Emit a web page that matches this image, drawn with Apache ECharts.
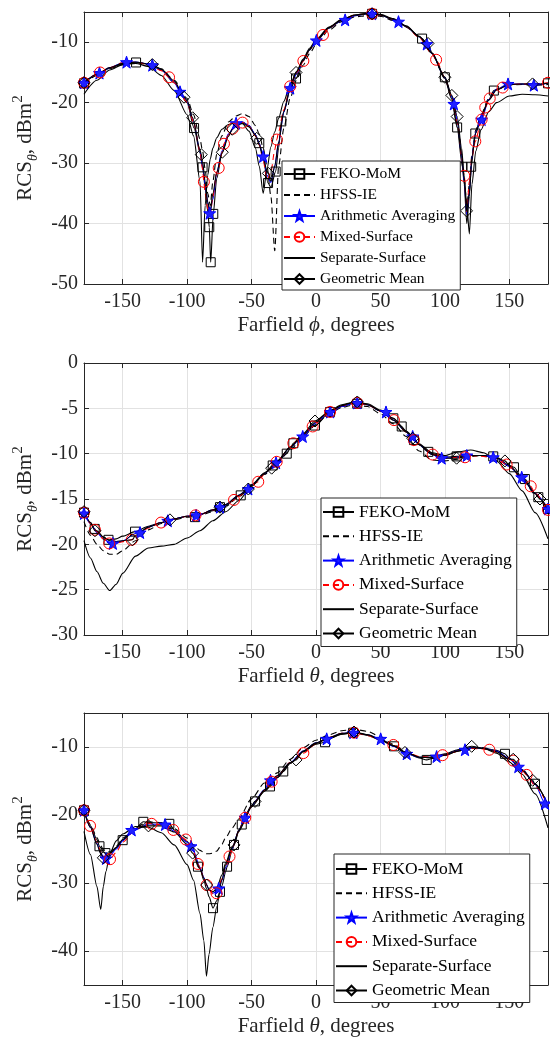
<!DOCTYPE html>
<html>
<head>
<meta charset="utf-8">
<script src="https://cdn.jsdelivr.net/npm/echarts@6/dist/echarts.min.js"></script>
<style>
  html, body { margin: 0; padding: 0; background: #fff; }
  #chart { width: 550px; height: 1040px; }
</style>
</head>
<body>
<div id="chart"></div>
<script>
// tick labels
var xTicks = [-150, -100, -50, 0, 50, 100, 150];
var p1YTicks = [-50, -40, -30, -20, -10];
var p2YTicks = [-30, -25, -20, -15, -10, -5, 0];
var p3YTicks = [-40, -30, -20, -10];

var seriesNames = ['FEKO-MoM', 'HFSS-IE', 'Arithmetic Averaging', 'Mixed-Surface', 'Separate-Surface', 'Geometric Mean'];

// ---------- panel 1 : farfield phi ----------
var p1X = [-180,-170,-160,-150,-140,-130,-120,-110,-100,-95,-90,-88,-86,-84,-82,-80,-77,-73,-68,-62,-57,-52,-47,-44,-41,-38,-35,-32,-29,-25,-20,-15,-10,-5,0,10,20,30,40,50,60,70,80,90,100,105,110,113,115,117,119,121,124,128,134,140,150,160,170,180];
var p1Feko = [-16.8,-15.4,-14.3,-13.6,-13.3,-13.6,-14.6,-16.7,-20.0,-23.5,-28.3,-30.6,-34.0,-38.0,-46.4,-38.6,-32.5,-28.4,-25.3,-23.6,-23.2,-23.8,-25.3,-26.7,-29.3,-32.5,-34.0,-31.6,-27.5,-21.5,-17.8,-15.3,-13.1,-11.3,-9.9,-7.7,-6.4,-5.6,-5.3,-5.5,-6.2,-7.4,-9.0,-11.8,-15.9,-18.9,-23.8,-29.5,-33.5,-40.0,-35.5,-29.5,-24.9,-22.3,-19.5,-17.8,-17.0,-16.9,-17.0,-16.8];
var p1Hfss = [-16.9,-15.5,-14.4,-13.7,-13.4,-13.6,-14.4,-16.3,-19.3,-22.0,-26.0,-28.0,-31.0,-35.0,-37.0,-33.0,-28.5,-25.5,-23.2,-22.2,-21.8,-22.3,-23.8,-25.2,-27.5,-30.5,-35.5,-44.5,-30.5,-24.3,-19.2,-16.2,-13.8,-11.9,-10.4,-8.0,-6.6,-5.8,-5.6,-5.7,-6.4,-7.5,-9.1,-11.9,-16.0,-19.0,-23.5,-28.5,-32.5,-37.0,-33.5,-28.5,-24.5,-22.0,-19.3,-17.8,-17.1,-17.0,-17.1,-17.0];
var p1Arith = [-16.7,-15.3,-14.2,-13.4,-13.3,-13.6,-14.6,-16.6,-19.8,-23.2,-28.0,-30.5,-33.5,-36.5,-38.8,-36.0,-31.6,-28.0,-25.2,-23.5,-23.2,-23.8,-25.3,-26.8,-29.0,-32.0,-33.2,-30.6,-26.6,-21.6,-17.6,-15.2,-13.0,-11.2,-9.8,-7.6,-6.4,-5.6,-5.3,-5.5,-6.2,-7.4,-9.1,-11.9,-15.9,-18.9,-23.5,-29.0,-33.0,-38.5,-34.5,-29.0,-24.8,-22.4,-19.5,-17.8,-16.9,-16.9,-17.1,-16.8];
var p1Mixed = [-16.7,-15.3,-14.2,-13.4,-13.3,-13.7,-14.7,-16.7,-19.9,-23.2,-28.0,-31.0,-35.0,-37.5,-38.5,-35.5,-31.5,-28.3,-25.4,-23.6,-23.3,-23.9,-25.5,-27.0,-29.5,-32.8,-31.5,-27.8,-24.8,-21.2,-17.4,-15.0,-13.1,-11.2,-9.8,-7.6,-6.3,-5.5,-5.3,-5.5,-6.2,-7.4,-9.2,-11.9,-15.9,-18.9,-23.6,-29.0,-32.1,-38.0,-33.0,-29.0,-26.2,-23.1,-19.6,-17.9,-17.0,-16.9,-16.9,-16.7];
var p1Sep = [-18.6,-16.3,-14.6,-13.7,-13.5,-14.0,-15.5,-18.0,-22.0,-25.5,-33.0,-46.4,-37.0,-32.0,-29.3,-27.5,-25.8,-24.4,-23.6,-23.2,-23.5,-24.7,-27.5,-30.5,-35.0,-31.0,-27.3,-24.8,-22.6,-19.8,-17.0,-14.8,-12.8,-11.0,-9.6,-7.5,-6.2,-5.5,-5.2,-5.4,-6.1,-7.3,-9.0,-11.8,-16.0,-19.3,-24.2,-28.8,-32.5,-37.0,-41.7,-33.5,-28.0,-24.5,-21.5,-20.0,-18.9,-18.6,-18.7,-18.9];
var p1Geo = [-16.7,-15.3,-14.2,-13.5,-13.3,-13.6,-14.5,-16.4,-19.6,-22.9,-27.8,-29.8,-33.0,-36.5,-38.0,-35.0,-31.5,-28.4,-25.6,-23.9,-23.4,-24.0,-25.4,-27.0,-29.0,-31.3,-33.0,-30.5,-26.5,-21.5,-17.6,-15.0,-13.0,-11.2,-9.8,-7.6,-6.3,-5.5,-5.3,-5.5,-6.2,-7.4,-9.1,-11.8,-15.8,-18.6,-22.8,-27.5,-32.5,-38.5,-35.0,-29.0,-25.0,-22.4,-19.6,-17.9,-17.0,-16.9,-17.0,-16.8];
var p1FekoMkX = [-180,-139.6,-94.6,-88,-82.8,-81.7,-79.7,-44,-37.2,-31.3,-26.9,-15.5,43.5,82.3,100,109.5,113.6,120.4,123.6,138,180];
var p1FekoMkY = [-16.8,-13.35,-24.2,-30.7,-40.6,-46.4,-38.4,-26.7,-33.3,-31.4,-23.1,-16.0,-5.3,-9.4,-15.8,-24.1,-30.6,-30.6,-25.1,-18.0,-16.8];
var p1ArithMkX = [-180,-168,-147,-127,-105.5,-82.5,-62,-41,-20,0.3,22.6,43.5,64,86,107,128.5,149,169];
var p1ArithMkY = [-16.7,-15.1,-13.3,-13.8,-18.2,-38.3,-23.4,-28.9,-17.6,-9.7,-6.3,-5.3,-6.6,-10.3,-20.2,-22.8,-16.9,-17.1];
var p1MixedMkX = [-180,-167.6,-114,-87,-75.5,-71.4,-64.6,-57,-30.4,-20,-9.8,5.4,43.5,93.2,115,123.6,128.5,131.3,134.8,144.8,180];
var p1MixedMkY = [-16.7,-15.0,-15.8,-33.1,-30.8,-26.8,-24.3,-23.3,-26.1,-17.3,-13.1,-8.8,-5.3,-12.9,-32.1,-26.4,-22.8,-20.8,-19.3,-17.5,-16.7];
var p1GeoMkX = [-180,-127,-102.4,-95.7,-89,-72.7,-65,-46,-37,-15.5,43.5,86.9,100,105.4,109.5,116.8,168];
var p1GeoMkY = [-16.7,-13.7,-19.1,-22.5,-28.6,-28.2,-24.4,-25.9,-31.7,-15.0,-5.3,-10.2,-15.8,-18.8,-22.3,-37.9,-16.9];

// ---------- panel 2 : farfield theta ----------
var p2X = [-180,-175,-170,-165,-160,-155,-150,-140,-130,-120,-110,-100,-90,-80,-70,-60,-50,-40,-30,-20,-10,0,10,20,30,40,50,60,70,80,90,100,110,120,130,140,150,160,170,180];
var p2Feko = [-16.5,-17.6,-18.6,-19.2,-19.5,-19.4,-19.1,-18.6,-18.0,-17.6,-17.2,-16.9,-16.7,-16.3,-15.7,-14.7,-13.4,-12.2,-10.9,-9.4,-7.9,-6.6,-5.4,-4.8,-4.4,-4.6,-5.3,-6.2,-7.6,-9.0,-10.0,-10.4,-10.4,-10.2,-10.2,-10.4,-11.3,-12.7,-14.4,-16.1];
var p2Hfss = [-17.5,-19.0,-20.0,-20.7,-21.1,-21.1,-20.7,-19.6,-18.4,-17.7,-17.3,-17.0,-16.8,-16.4,-15.8,-14.8,-13.5,-12.3,-11.0,-9.6,-8.1,-6.8,-5.6,-4.9,-4.6,-4.8,-5.6,-6.7,-8.1,-9.7,-10.7,-10.8,-10.6,-10.3,-10.2,-10.5,-11.4,-12.8,-14.5,-16.4];
var p2Arith = [-16.6,-17.7,-18.7,-19.4,-19.8,-19.9,-19.6,-18.8,-18.1,-17.6,-17.2,-16.9,-16.7,-16.2,-15.6,-14.6,-13.5,-12.2,-10.9,-9.3,-7.9,-6.6,-5.4,-4.8,-4.4,-4.6,-5.3,-6.3,-7.6,-9.0,-10.1,-10.5,-10.4,-10.2,-10.2,-10.5,-11.4,-12.8,-14.4,-16.1];
var p2Mixed = [-16.5,-17.7,-18.6,-19.4,-19.9,-19.9,-19.7,-19.2,-18.2,-17.6,-17.2,-16.9,-16.7,-16.2,-15.6,-14.7,-13.5,-12.2,-10.9,-9.3,-7.9,-6.6,-5.4,-4.7,-4.4,-4.6,-5.3,-6.3,-7.6,-9.0,-10.1,-10.5,-10.4,-10.2,-10.3,-10.6,-11.4,-12.8,-14.4,-16.2];
var p2Sep = [-19.6,-21.5,-23.0,-24.3,-25.1,-24.4,-23.2,-21.3,-20.4,-20.2,-20.0,-19.3,-18.5,-17.4,-16.4,-15.2,-13.6,-12.2,-10.8,-9.3,-7.9,-6.5,-5.3,-4.6,-4.3,-4.5,-5.2,-6.1,-7.5,-8.9,-9.9,-10.2,-9.8,-9.6,-9.9,-10.8,-12.2,-14.1,-16.5,-19.4];
var p2Geo = [-16.4,-17.6,-18.5,-19.2,-19.6,-19.7,-19.6,-19.0,-18.1,-17.6,-17.2,-16.9,-16.7,-16.2,-15.6,-14.6,-13.5,-12.1,-10.8,-9.3,-7.8,-6.5,-5.4,-4.7,-4.3,-4.6,-5.3,-6.3,-7.6,-9.0,-10.1,-10.5,-10.4,-10.2,-10.2,-10.5,-11.3,-12.7,-14.4,-16.2];
var p2FekoMkX = [-180,-171.7,-161,-140.4,-93.9,-74.5,-58.4,-33.6,-22.7,-17.6,-0.8,10.9,32,60,66.5,76,87.1,109.1,137.5,153.6,162.1,172.5,180];
var p2FekoMkY = [-16.5,-18.3,-19.5,-18.6,-17.0,-15.9,-14.6,-11.3,-10.0,-8.85,-6.9,-5.4,-4.5,-6.1,-7.0,-8.5,-9.8,-10.3,-10.3,-11.5,-12.8,-14.8,-16.1];
var p2ArithMkX = [-180,-157.6,-136.5,-115,-93,-74.5,-52.5,-31,-10.3,11,32,54.3,75,97.5,117,137.5,159.6,180];
var p2ArithMkY = [-16.6,-19.9,-18.7,-17.4,-16.8,-15.9,-13.9,-11.0,-8.1,-5.4,-4.4,-5.4,-8.1,-10.5,-10.2,-10.4,-12.6,-16.1];
var p2MixedMkX = [-180,-171.5,-160.4,-143,-120.2,-93.5,-63.6,-44.8,-30.5,-17.6,-2.6,10.9,32,60.5,76,90.5,115.6,147.9,166.6,180];
var p2MixedMkY = [-16.5,-18.4,-19.9,-19.5,-17.6,-16.8,-15.1,-13.1,-10.9,-8.85,-7.0,-5.4,-4.4,-6.3,-8.5,-10.1,-10.4,-11.2,-13.6,-16.2];
var p2GeoMkX = [-180,-171.5,-142.5,-113.3,-74.5,-52.5,-34.4,-0.8,32,75,109.1,146.6,173.8];
var p2GeoMkY = [-16.4,-18.5,-19.5,-17.3,-15.9,-13.9,-11.6,-6.4,-4.3,-8.3,-10.5,-10.8,-15.0];

// ---------- panel 3 : farfield theta ----------
var p3X = [-180,-175,-170,-167,-165,-163,-160,-155,-150,-140,-130,-120,-110,-100,-95,-90,-87,-85,-83,-80,-77,-73,-70,-65,-60,-50,-40,-30,-20,-10,0,10,20,30,40,50,60,70,80,90,100,110,120,130,140,150,160,170,180];
var p3Feko = [-19.3,-21.6,-23.6,-24.8,-25.4,-25.7,-25.6,-24.8,-23.6,-22.0,-21.1,-21.2,-22.2,-23.9,-25.3,-27.9,-29.6,-30.8,-32.0,-33.7,-32.6,-30.4,-28.3,-25.2,-22.5,-18.8,-16.5,-14.5,-12.4,-10.7,-9.6,-8.8,-8.1,-7.9,-8.3,-9.0,-9.9,-10.9,-11.6,-11.7,-11.2,-10.6,-10.1,-10.2,-10.5,-11.7,-13.4,-15.6,-18.6];
var p3Hfss = [-19.3,-21.4,-23.3,-24.5,-25.1,-25.4,-25.4,-24.6,-23.4,-21.8,-21.0,-21.1,-22.0,-23.4,-24.4,-25.2,-25.5,-25.7,-25.7,-25.6,-25.3,-24.3,-23.3,-21.9,-20.6,-17.6,-15.3,-13.8,-11.8,-10.1,-9.0,-8.2,-7.6,-7.4,-7.7,-8.5,-9.6,-10.7,-11.5,-11.6,-11.2,-10.6,-10.1,-10.1,-10.6,-11.7,-13.3,-15.5,-18.5];
var p3Arith = [-19.3,-21.8,-24.2,-25.6,-26.1,-26.4,-26.0,-25.0,-23.8,-22.2,-21.3,-21.4,-22.4,-24.0,-25.3,-27.7,-29.2,-30.2,-31.0,-31.5,-31.2,-29.6,-27.7,-24.9,-22.3,-18.6,-16.3,-14.3,-12.3,-10.6,-9.4,-8.6,-8.0,-7.9,-8.2,-8.9,-9.9,-10.8,-11.5,-11.5,-11.1,-10.5,-10.1,-10.2,-10.6,-11.7,-13.3,-15.5,-18.4];
var p3Mixed = [-19.3,-21.6,-24.0,-25.4,-26.0,-26.4,-26.4,-25.5,-24.0,-22.1,-21.2,-21.4,-22.4,-24.0,-25.4,-27.8,-29.3,-30.3,-31.0,-31.6,-31.5,-29.4,-27.6,-24.9,-22.4,-18.7,-16.4,-14.3,-12.3,-10.8,-9.5,-8.6,-8.0,-7.9,-8.3,-9.0,-9.8,-10.8,-11.4,-11.5,-11.2,-10.6,-10.2,-10.3,-10.8,-11.8,-13.5,-15.7,-18.6];
var p3Sep = [-22.4,-25.8,-30.5,-33.9,-30.5,-28.3,-25.7,-23.8,-22.8,-21.7,-21.8,-22.6,-24.4,-27.3,-29.6,-34.5,-38.5,-43.7,-40.5,-36.5,-33.5,-29.5,-27.3,-24.8,-22.4,-18.8,-16.5,-14.5,-12.4,-10.7,-9.5,-8.7,-8.1,-7.9,-8.2,-8.9,-9.8,-10.8,-11.5,-11.6,-11.2,-10.6,-10.1,-10.2,-10.9,-12.2,-14.0,-16.9,-21.9];
var p3Geo = [-19.3,-21.8,-24.3,-25.7,-26.2,-26.2,-25.7,-24.8,-23.6,-22.0,-21.5,-21.6,-22.5,-24.3,-25.7,-27.9,-29.3,-30.3,-31.0,-31.3,-30.8,-28.8,-27.0,-24.6,-22.2,-18.6,-16.3,-14.2,-12.3,-10.6,-9.4,-8.6,-8.0,-7.8,-8.2,-8.9,-9.8,-10.8,-11.5,-11.5,-11.0,-10.4,-9.9,-10.2,-10.7,-11.8,-13.4,-15.5,-18.5];
var p3FekoMkX = [-180,-168,-163.4,-150,-134,-113.8,-91.6,-79.9,-74.5,-69,-63.6,-57.6,-47.3,-35.7,-25.4,7,28.8,60.5,85.9,146.6,169.9];
var p3FekoMkY = [-19.3,-24.6,-25.6,-23.7,-21.0,-21.3,-27.6,-33.7,-31.3,-27.6,-24.4,-21.4,-18.0,-15.8,-13.6,-9.3,-7.9,-9.9,-11.9,-11.0,-15.4];
var p3ArithMkX = [-180,-162.9,-143,-117.1,-97,-75.5,-55,-35.3,8.3,29,50.2,70.4,93.6,115.6,157,177.7];
var p3ArithMkY = [-19.3,-26.4,-22.2,-21.4,-24.6,-30.8,-20.4,-14.9,-8.8,-7.9,-8.8,-11.0,-11.4,-10.4,-12.9,-18.3];
var p3MixedMkX = [-180,-175.3,-159.8,-127.5,-110.7,-101,-91.6,-84.8,-77.2,-67.1,-54.9,-34.4,-9.8,29.5,60,98.2,134.5,153,163.5];
var p3MixedMkY = [-19.3,-21.6,-26.5,-21.3,-22.2,-23.6,-27.2,-30.3,-31.5,-26.1,-20.4,-15.1,-10.9,-7.9,-9.7,-11.2,-10.4,-12.0,-14.1];
var p3GeoMkX = [-180,-165,-130,-95.7,-84.8,-63.6,-47.3,-15.5,29.5,69,120.8,153,168.1];
var p3GeoMkY = [-19.3,-26.3,-21.6,-25.6,-30.3,-24.4,-18.0,-11.9,-7.8,-10.8,-9.9,-11.8,-14.9];

// 五角星
var starPath = 'path://M0,-10L2.35,-3.24L9.51,-3.09L3.8,1.24L5.88,8.09L0,4L-5.88,8.09L-3.8,1.24L-9.51,-3.09L-2.35,-3.24Z';
var clear = 'rgba(0,0,0,0)';

var looks = [
  { color: '#000000', dash: 'solid', symbol: 'rect', size: 9, fill: clear, edge: '#000000' },
  { color: '#000000', dash: [6, 4], symbol: 'none', size: 0, fill: clear, edge: clear },
  { color: '#0000ff', dash: 'solid', symbol: starPath, size: 12, fill: '#2020ff', edge: '#0000ff' },
  { color: '#ff0000', dash: [6, 4], symbol: 'circle', size: 11, fill: clear, edge: '#ff0000' },
  { color: '#000000', dash: 'solid', symbol: 'none', size: 0, fill: clear, edge: clear },
  { color: '#000000', dash: 'solid', symbol: 'diamond', size: 12, fill: clear, edge: '#000000' }
];

var panels = [
  { x: p1X, ys: [p1Feko, p1Hfss, p1Arith, p1Mixed, p1Sep, p1Geo],
    mk: [[p1FekoMkX, p1FekoMkY], null, [p1ArithMkX, p1ArithMkY], [p1MixedMkX, p1MixedMkY], null, [p1GeoMkX, p1GeoMkY]],
    top: 12, min: -50, max: -5, yTicks: p1YTicks, sym: 'ϕ',
    legend: { left: 282, top: 161, font: 15.5, gap: 5, padding: [5, 5, 3, 1] } },
  { x: p2X, ys: [p2Feko, p2Hfss, p2Arith, p2Mixed, p2Sep, p2Geo],
    mk: [[p2FekoMkX, p2FekoMkY], null, [p2ArithMkX, p2ArithMkY], [p2MixedMkX, p2MixedMkY], null, [p2GeoMkX, p2GeoMkY]],
    top: 363, min: -30, max: 0, yTicks: p2YTicks, sym: 'θ',
    legend: { left: 321, top: 498, font: 17.5, gap: 6.3, padding: [5, 5, 4, 1] } },
  { x: p3X, ys: [p3Feko, p3Hfss, p3Arith, p3Mixed, p3Sep, p3Geo],
    mk: [[p3FekoMkX, p3FekoMkY], null, [p3ArithMkX, p3ArithMkY], [p3MixedMkX, p3MixedMkY], null, [p3GeoMkX, p3GeoMkY]],
    top: 713, min: -45, max: -5, yTicks: p3YTicks, sym: 'θ',
    legend: { left: 334, top: 854, font: 17.5, gap: 6.3, padding: [6, 5, 3, 1] } }
];

// 曲线点 + 标记点 合并
function makeData (xs, ys, mk) {
  var pts = [];
  for (var i = 0; i < xs.length; i++) {
    var near = false;
    if (mk) {
      for (var j = 0; j < mk[0].length; j++) {
        if (Math.abs(mk[0][j] - xs[i]) < 1) near = true;
      }
    }
    if (!near) pts.push({ value: [xs[i], ys[i]], symbol: 'none' });
  }
  if (mk) {
    for (var k = 0; k < mk[0].length; k++) pts.push({ value: [mk[0][k], mk[1][k]] });
  }
  pts.sort(function (a, b) { return a.value[0] - b.value[0]; });
  return pts;
}

var serif = 'Liberation Serif';
var axisColor = '#262626';
var grids = [], xAxes = [], yAxes = [], series = [], legends = [];

panels.forEach(function (p, i) {
  grids.push({ left: 84, width: 464, top: p.top, height: 272 });

  xAxes.push({
    type: 'value', gridIndex: i, min: -180, max: 180, position: 'bottom',
    name: 'Farfield {i|' + p.sym + '}, degrees', nameLocation: 'middle', nameGap: 31,
    nameTextStyle: { fontFamily: serif, fontSize: 21, color: axisColor,
      rich: { i: { fontFamily: serif, fontSize: 21, fontStyle: 'italic', color: axisColor } } },
    axisLine: { show: true, onZero: false, lineStyle: { color: axisColor, width: 1 } },
    axisTick: { show: true, inside: true, length: 5, customValues: xTicks, lineStyle: { color: axisColor } },
    axisLabel: { show: true, customValues: xTicks, margin: 8, fontFamily: serif, fontSize: 20, color: axisColor },
    splitLine: { show: true, lineStyle: { color: '#e2e2e2', width: 1 } }
  });
  xAxes.push({
    type: 'value', gridIndex: i, min: -180, max: 180, position: 'top',
    axisLine: { show: true, onZero: false, lineStyle: { color: axisColor, width: 1 } },
    axisTick: { show: true, inside: true, length: 5, customValues: xTicks, lineStyle: { color: axisColor } },
    axisLabel: { show: false },
    splitLine: { show: false }
  });

  yAxes.push({
    type: 'value', gridIndex: i, min: p.min, max: p.max, position: 'left',
    name: 'RCS{s|θ}, dBm{p|2}', nameLocation: 'middle', nameGap: 41,
    nameTextStyle: { fontFamily: serif, fontSize: 21, color: axisColor, lineHeight: 30,
      rich: {
        s: { fontFamily: serif, fontSize: 14, fontStyle: 'italic', color: axisColor, lineHeight: 14, verticalAlign: 'bottom' },
        p: { fontFamily: serif, fontSize: 15, color: axisColor, lineHeight: 14, verticalAlign: 'top' }
      } },
    axisLine: { show: true, onZero: false, lineStyle: { color: axisColor, width: 1 } },
    axisTick: { show: true, inside: true, length: 5, customValues: p.yTicks, lineStyle: { color: axisColor } },
    axisLabel: { show: true, customValues: p.yTicks, margin: 6, fontFamily: serif, fontSize: 20, color: axisColor },
    splitLine: { show: true, lineStyle: { color: '#e2e2e2', width: 1 } }
  });
  yAxes.push({
    type: 'value', gridIndex: i, min: p.min, max: p.max, position: 'right',
    axisLine: { show: true, onZero: false, lineStyle: { color: axisColor, width: 1 } },
    axisTick: { show: true, inside: true, length: 5, customValues: p.yTicks, lineStyle: { color: axisColor } },
    axisLabel: { show: false },
    splitLine: { show: false }
  });

  seriesNames.forEach(function (name, s) {
    var lk = looks[s];
    series.push({
      name: name, type: 'line',
      xAxisIndex: 2 * i, yAxisIndex: 2 * i,
      data: makeData(p.x, p.ys[s], p.mk[s]),
      symbol: lk.symbol === 'none' ? 'circle' : lk.symbol,
      symbolSize: lk.size, showAllSymbol: true,
      smooth: 0.25, smoothMonotone: 'x',
      lineStyle: { color: lk.color, width: 1.1, type: lk.dash },
      itemStyle: { color: lk.fill, borderColor: lk.edge, borderWidth: 1 },
      emphasis: { disabled: true },
      silent: true, clip: true
    });
  });

  legends.push({
    orient: 'vertical', left: p.legend.left, top: p.legend.top,
    data: seriesNames,
    itemWidth: 31, itemHeight: 12, itemGap: p.legend.gap,
    padding: p.legend.padding,
    backgroundColor: '#ffffff', borderColor: axisColor, borderWidth: 1, borderRadius: 0,
    selectedMode: false,
    textStyle: { fontFamily: serif, fontSize: p.legend.font, color: '#000000', lineHeight: 14 }
  });
});

var myChart = echarts.init(document.getElementById('chart'), null, { renderer: 'canvas' });
myChart.setOption({
  animation: false,
  backgroundColor: '#ffffff',
  grid: grids,
  xAxis: xAxes,
  yAxis: yAxes,
  legend: legends,
  series: series
});
</script>
</body>
</html>
